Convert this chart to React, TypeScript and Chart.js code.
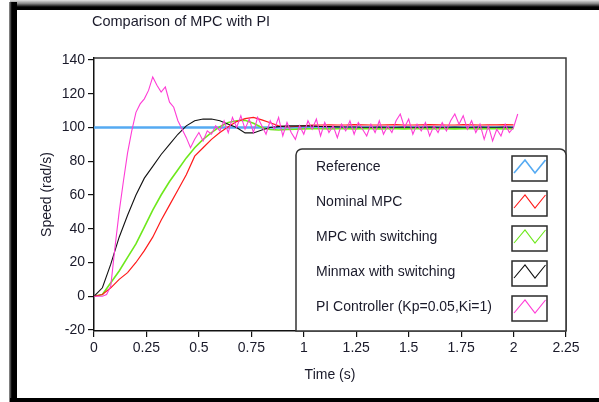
import React, { useEffect, useRef } from 'react';
import { Chart, registerables } from 'chart.js';

Chart.register(...registerables);

const chartTitle = 'Comparison of MPC with PI';
const xAxisTitle = 'Time (s)';
const yAxisTitle = 'Speed (rad/s)';

const xTickValues = [0, 0.25, 0.5, 0.75, 1, 1.25, 1.5, 1.75, 2, 2.25];
const yTickValues = [-20, 0, 20, 40, 60, 80, 100, 120, 140];

const seriesLabels = [
  'Reference',
  'Nominal MPC',
  'MPC with switching',
  'Minmax with switching',
  'PI Controller (Kp=0.05,Ki=1)',
];

const refTime = [0, 2.0];
const referenceValues = [100, 100];

const mpcTime = [
  0, 0.04, 0.08, 0.12, 0.16, 0.2, 0.24, 0.28, 0.32, 0.36,
  0.4, 0.44, 0.48, 0.52, 0.56, 0.6, 0.64, 0.68, 0.72, 0.76,
  0.8, 0.84, 0.88, 0.92, 0.96, 1.0, 1.04, 1.08, 1.12, 1.16,
  1.2, 1.24, 1.28, 1.32, 1.36, 1.4, 1.44, 1.48, 1.52, 1.56,
  1.6, 1.64, 1.68, 1.72, 1.76, 1.8, 1.84, 1.88, 1.92, 1.96,
  2.0,
];

const nominalMPC = [
  0, 1, 5, 10, 14, 20, 27, 35, 45, 54,
  63, 72, 83, 88, 93, 97, 100.5, 103.5, 105.3, 106,
  104.5, 102.8, 101, 100.3, 100.6, 101, 101.4, 101.5, 101.6, 101.5,
  101.5, 101.7, 101.6, 101.5, 101.5, 101.6, 101.7, 101.5, 101.5, 101.6,
  101.7, 101.6, 101.5, 101.5, 101.7, 101.6, 101.5, 101.6, 101.6, 101.7,
  101.6,
];

const mpcSwitching = [
  0, 1, 8, 15, 23, 31, 41, 51, 60, 68,
  75, 82, 88, 93, 97, 100.5, 103, 104, 104.3, 102.5,
  100, 98.8, 98.5, 98.8, 99, 99.2, 99.3, 99.3, 99.2, 99.3,
  99.3, 99.2, 99.3, 99.3, 99.2, 99.3, 99.3, 99.2, 99.3, 99.3,
  99.2, 99.3, 99.3, 99.2, 99.3, 99.3, 99.2, 99.3, 99.3, 99.2,
  99.3,
];

const minmaxSwitching = [
  0, 5, 19, 35, 48, 60, 70, 77, 84, 90,
  96, 101, 104, 105, 105, 104, 102, 100, 96.8, 96.8,
  98.5, 100, 100.5, 101, 101, 101, 100.8, 100.6, 100.5, 100.4,
  100.3, 100.3, 100.2, 100.2, 100.3, 100.2, 100.2, 100.3, 100.2, 100.2,
  100.3, 100.2, 100.2, 100.3, 100.2, 100.2, 100.3, 100.2, 100.2, 100.3,
  100.2,
];

const piTime = [
  0, 0.02, 0.04, 0.06, 0.08, 0.1, 0.12, 0.14, 0.16, 0.18,
  0.2, 0.22, 0.24, 0.26, 0.28, 0.3, 0.32, 0.34, 0.36, 0.38,
  0.4, 0.42, 0.44, 0.46, 0.48, 0.5, 0.52, 0.54, 0.56, 0.58,
  0.6, 0.62, 0.64, 0.66, 0.68, 0.7, 0.72, 0.74, 0.76, 0.78,
  0.8, 0.82, 0.84, 0.86, 0.88, 0.9, 0.92, 0.94, 0.96, 0.98,
  1.0, 1.02, 1.04, 1.06, 1.08, 1.1, 1.12, 1.14, 1.16, 1.18,
  1.2, 1.22, 1.24, 1.26, 1.28, 1.3, 1.32, 1.34, 1.36, 1.38,
  1.4, 1.42, 1.44, 1.46, 1.48, 1.5, 1.52, 1.54, 1.56, 1.58,
  1.6, 1.62, 1.64, 1.66, 1.68, 1.7, 1.72, 1.74, 1.76, 1.78,
  1.8, 1.82, 1.84, 1.86, 1.88, 1.9, 1.92, 1.94, 1.96, 1.98,
  2.0, 2.02,
];

const piController = [
  0, 0, 0, 1, 6, 29, 50, 68, 85, 98,
  109, 114, 117, 122, 130, 125, 121, 124, 115, 112,
  104, 99, 94, 88, 93, 97, 92, 98, 96, 101,
  98, 104, 97, 106, 100, 107, 99, 105, 97, 106,
  101, 96, 104, 99, 106, 95, 103, 97, 93, 101,
  96, 104, 99, 105, 95, 103, 97, 101, 94, 102,
  98, 104, 96, 103, 99, 95, 102, 97, 104, 96,
  101, 97, 104, 108, 100, 105, 96, 102, 98, 103,
  95, 101, 97, 103, 98, 104, 108, 102, 107, 99,
  104, 97, 102, 93, 101, 92, 99, 95, 102, 97,
  100, 108,
];

const FONT = '"Liberation Sans", Arial, sans-serif';
const TEXT_COLOR = '#1a1a2a';

const toPoints = (xs: number[], ys: number[]) => xs.map((x, i) => ({ x, y: ys[i] }));

const titlePlugin = {
  id: 'plainTitle',
  afterDraw(chart: any) {
    const { ctx, chartArea } = chart;
    ctx.save();
    ctx.font = `14.5px ${FONT}`;
    ctx.fillStyle = TEXT_COLOR;
    ctx.textAlign = 'left';
    ctx.textBaseline = 'middle';
    ctx.fillText(chartTitle, chartArea.left - 2, chartArea.top - 36);
    ctx.restore();
  },
};

const borderPlugin = {
  id: 'plotBorder',
  beforeDatasetsDraw(chart: any) {
    const { ctx, chartArea } = chart;
    ctx.save();
    ctx.strokeStyle = '#3a3a3a';
    ctx.lineWidth = 1.5;
    ctx.beginPath();
    ctx.moveTo(chartArea.left, chartArea.top);
    ctx.lineTo(chartArea.right, chartArea.top);
    ctx.lineTo(chartArea.right, chartArea.bottom);
    ctx.stroke();
    ctx.restore();
  },
};

const boxLegendPlugin = {
  id: 'boxLegend',
  afterDatasetsDraw(chart: any) {
    const { ctx, chartArea } = chart;
    const w = 270;
    const h = 182;
    const x0 = chartArea.right - w;
    const y0 = chartArea.bottom - h;
    const r = 6;
    ctx.save();
    ctx.beginPath();
    ctx.moveTo(x0 + r, y0);
    ctx.lineTo(x0 + w - r, y0);
    ctx.arcTo(x0 + w, y0, x0 + w, y0 + r, r);
    ctx.lineTo(x0 + w, y0 + h);
    ctx.lineTo(x0, y0 + h);
    ctx.lineTo(x0, y0 + r);
    ctx.arcTo(x0, y0, x0 + r, y0, r);
    ctx.closePath();
    ctx.fillStyle = '#ffffff';
    ctx.fill();
    ctx.strokeStyle = '#333333';
    ctx.lineWidth = 1.5;
    ctx.stroke();

    chart.data.datasets.forEach((ds: any, i: number) => {
      const cy = y0 + 18 + i * 35;
      ctx.font = `14px ${FONT}`;
      ctx.fillStyle = TEXT_COLOR;
      ctx.textAlign = 'left';
      ctx.textBaseline = 'middle';
      ctx.fillText(ds.label, x0 + 20, cy);

      const sx = x0 + 216;
      const sy = cy - 11;
      const sw = 35;
      const sh = 25;
      ctx.fillStyle = '#ffffff';
      ctx.fillRect(sx, sy, sw, sh);
      ctx.strokeStyle = '#2a2a2a';
      ctx.lineWidth = 1.5;
      ctx.strokeRect(sx, sy, sw, sh);

      ctx.beginPath();
      ctx.moveTo(sx + 2, sy + 17);
      ctx.lineTo(sx + 13, sy + 4);
      ctx.lineTo(sx + 23, sy + 17);
      ctx.lineTo(sx + 33.5, sy + 4);
      ctx.strokeStyle = ds.borderColor;
      ctx.lineWidth = i === 0 ? 1.6 : 1.1;
      ctx.stroke();
    });
    ctx.restore();
  },
};

function ChartCanvas() {
  const canvasRef = useRef<HTMLCanvasElement | null>(null);

  useEffect(() => {
    if (!canvasRef.current) return;
    const lineStyle = { pointRadius: 0, pointHoverRadius: 0, tension: 0, fill: false };
    const chart = new Chart(canvasRef.current, {
      type: 'line',
      data: {
        datasets: [
          {
            label: seriesLabels[0],
            data: toPoints(refTime, referenceValues),
            borderColor: '#55aaf2',
            borderWidth: 2.5,
            order: 5,
            ...lineStyle,
          },
          {
            label: seriesLabels[1],
            data: toPoints(mpcTime, nominalMPC),
            borderColor: '#ff1a1a',
            borderWidth: 1.2,
            order: 3,
            ...lineStyle,
          },
          {
            label: seriesLabels[2],
            data: toPoints(mpcTime, mpcSwitching),
            borderColor: '#6ee81c',
            borderWidth: 1.6,
            order: 4,
            ...lineStyle,
          },
          {
            label: seriesLabels[3],
            data: toPoints(mpcTime, minmaxSwitching),
            borderColor: '#111111',
            borderWidth: 1.1,
            order: 2,
            ...lineStyle,
          },
          {
            label: seriesLabels[4],
            data: toPoints(piTime, piController),
            borderColor: '#ff3cd6',
            borderWidth: 1.1,
            order: 1,
            ...lineStyle,
          },
        ],
      },
      options: {
        responsive: false,
        animation: false,
        devicePixelRatio: 1,
        layout: { padding: { left: 35, top: 58, right: 33, bottom: 14 } },
        plugins: {
          legend: { display: false },
          title: { display: false },
          tooltip: { enabled: false },
        },
        scales: {
          x: {
            type: 'linear',
            min: 0,
            max: 2.25,
            afterFit: (scale: any) => {
              scale.height = 57;
            },
            afterBuildTicks: (scale: any) => {
              scale.ticks = xTickValues.map((v) => ({ value: v }));
            },
            ticks: {
              font: { family: FONT, size: 14 },
              color: TEXT_COLOR,
              padding: 3,
              maxRotation: 0,
              autoSkip: false,
              callback: (value: any) => String(value),
            },
            grid: {
              drawOnChartArea: false,
              drawTicks: true,
              tickLength: 6,
              color: '#111111',
              lineWidth: 1.2,
            },
            border: { display: true, color: '#111111', width: 1.5 },
            title: {
              display: true,
              text: xAxisTitle,
              font: { family: FONT, size: 14 },
              color: TEXT_COLOR,
              padding: { top: 4, bottom: 4 },
            },
          },
          y: {
            type: 'linear',
            min: -20.6,
            max: 141.2,
            afterFit: (scale: any) => {
              scale.width = 59;
            },
            afterBuildTicks: (scale: any) => {
              scale.ticks = yTickValues.map((v) => ({ value: v }));
            },
            ticks: {
              font: { family: FONT, size: 14 },
              color: TEXT_COLOR,
              padding: 3,
              autoSkip: false,
              callback: (value: any) => String(value),
            },
            grid: {
              drawOnChartArea: false,
              drawTicks: true,
              tickLength: 6,
              color: '#111111',
              lineWidth: 1.2,
            },
            border: { display: true, color: '#111111', width: 1.5 },
            title: {
              display: true,
              text: yAxisTitle,
              font: { family: FONT, size: 14 },
              color: TEXT_COLOR,
              padding: { top: 4, bottom: 4 },
            },
          },
        },
      } as any,
      plugins: [borderPlugin, boxLegendPlugin, titlePlugin],
    });
    return () => chart.destroy();
  }, []);

  return (
    <canvas
      ref={canvasRef}
      width={599}
      height={402}
      style={{ position: 'absolute', left: 0, top: 0, width: 599, height: 402, zIndex: 2 }}
    />
  );
}

export default function App() {
  return (
    <div
      style={{
        position: 'fixed',
        left: 0,
        top: 0,
        width: 599,
        height: 402,
        background: '#ffffff',
        overflow: 'hidden',
      }}
    >
      <div
        style={{
          position: 'absolute',
          left: 10,
          top: 0,
          width: 589,
          height: 10,
          background: 'linear-gradient(to bottom, #e4e4e4 0%, #8a8a8a 35%, #000000 70%, #000000 100%)',
        }}
      />
      <div
        style={{
          position: 'absolute',
          left: 9,
          top: 2,
          width: 8,
          height: 400,
          background: 'linear-gradient(to right, #9a9a9a 0%, #000000 35%, #000000 100%)',
        }}
      />
      <div
        style={{
          position: 'absolute',
          left: 10,
          top: 398,
          width: 589,
          height: 4,
          background: '#000000',
        }}
      />
      <ChartCanvas />
    </div>
  );
}
